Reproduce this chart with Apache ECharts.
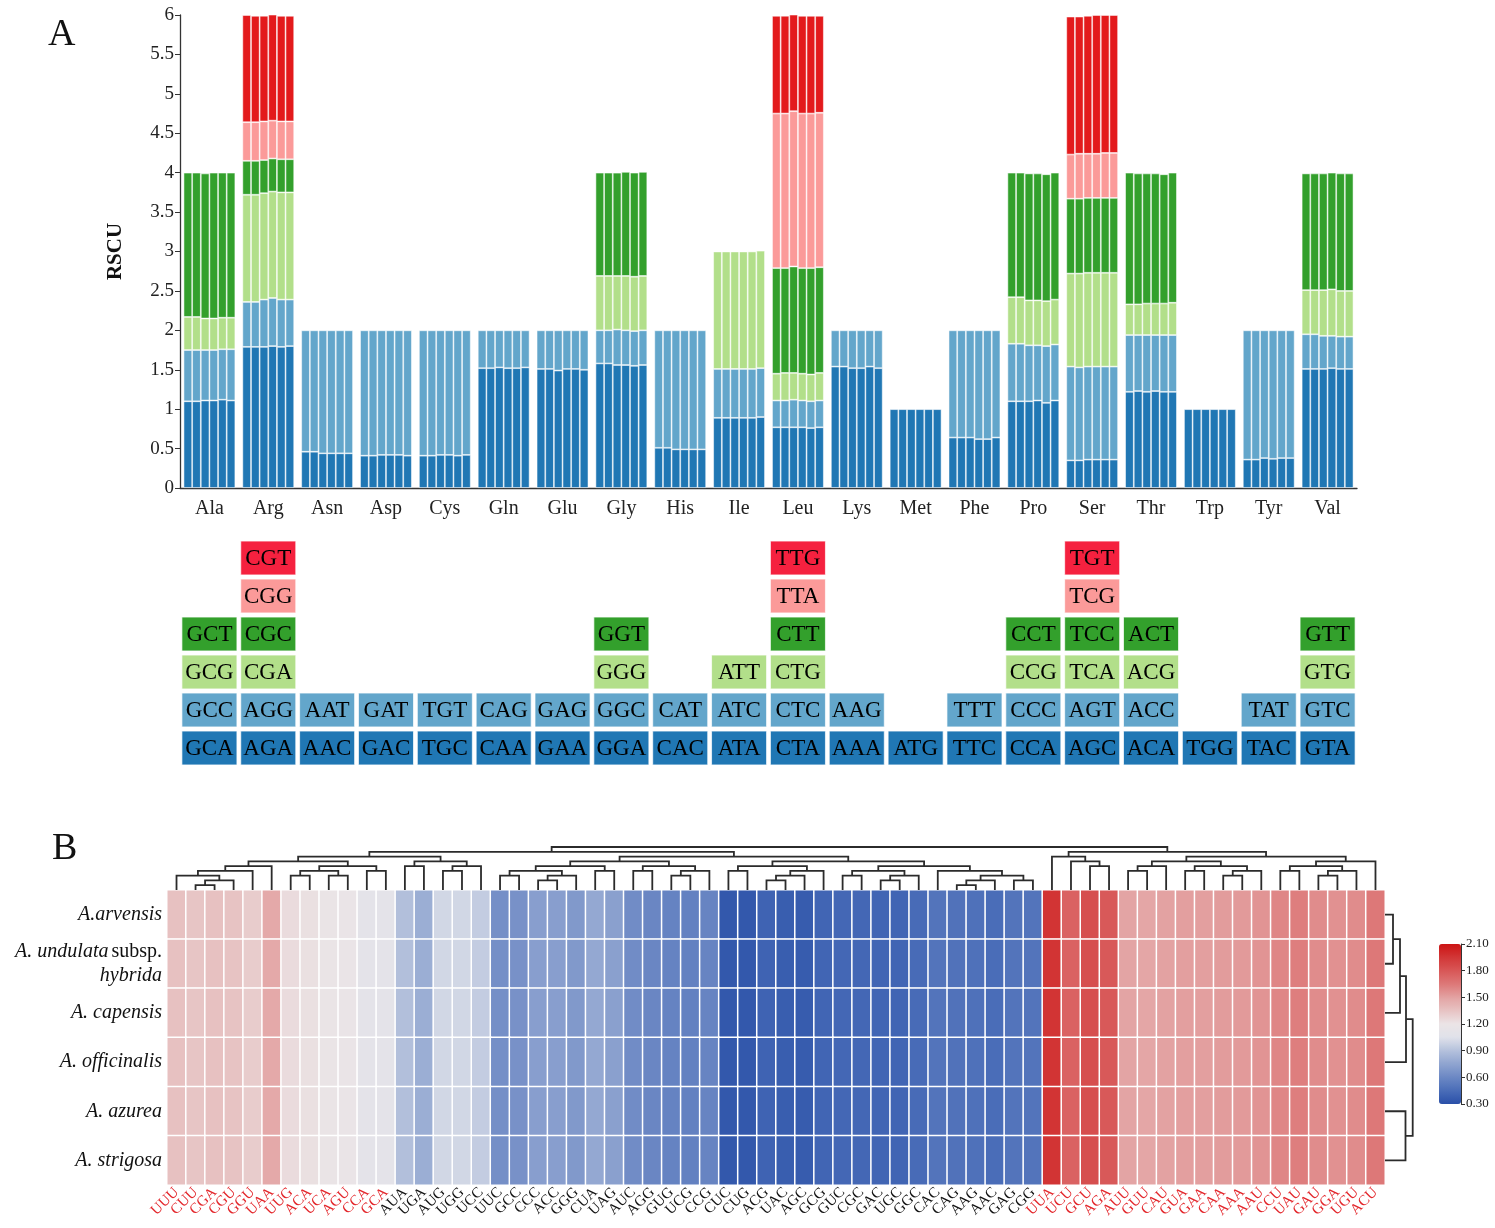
<!DOCTYPE html>
<html>
<head>
<meta charset="utf-8">
<title>RSCU</title>
<script src="https://cdn.jsdelivr.net/npm/echarts@6/dist/echarts.min.js"></script>
<style>
  html, body { margin: 0; padding: 0; background: #fff; }
  #chart { width: 1495px; height: 1228px; }
</style>
</head>
<body>
<div id="chart"></div>
<script>
var FONT = '"Liberation Serif", "Times New Roman", serif';
var N = null;

// panel A: amino acids and RSCU of each codon level (bottom -> top), 6 species per bar group
var aminoAcids = ['Ala', 'Arg', 'Asn', 'Asp', 'Cys', 'Gln', 'Glu', 'Gly', 'His', 'Ile',
                  'Leu', 'Lys', 'Met', 'Phe', 'Pro', 'Ser', 'Thr', 'Trp', 'Tyr', 'Val'];

var rscuLv1 = [
    [1.10, 1.10, 1.11, 1.11, 1.12, 1.11], [1.79, 1.79, 1.79, 1.80, 1.79, 1.80],
    [0.46, 0.46, 0.44, 0.44, 0.44, 0.44], [0.41, 0.41, 0.42, 0.42, 0.42, 0.41],
    [0.41, 0.41, 0.42, 0.42, 0.41, 0.42], [1.52, 1.52, 1.53, 1.52, 1.52, 1.53],
    [1.51, 1.51, 1.49, 1.51, 1.51, 1.50], [1.58, 1.58, 1.56, 1.56, 1.55, 1.56],
    [0.51, 0.51, 0.49, 0.49, 0.49, 0.49], [0.89, 0.89, 0.89, 0.89, 0.89, 0.90],
    [0.77, 0.77, 0.77, 0.77, 0.76, 0.77], [1.54, 1.54, 1.52, 1.52, 1.54, 1.52],
    [1.00, 1.00, 1.00, 1.00, 1.00, 1.00], [0.64, 0.64, 0.64, 0.62, 0.62, 0.64],
    [1.10, 1.10, 1.10, 1.11, 1.08, 1.11], [0.35, 0.35, 0.36, 0.36, 0.36, 0.36],
    [1.22, 1.23, 1.22, 1.23, 1.22, 1.22], [1.00, 1.00, 1.00, 1.00, 1.00, 1.00],
    [0.36, 0.36, 0.38, 0.37, 0.38, 0.38], [1.51, 1.51, 1.51, 1.52, 1.51, 1.51]
];
var rscuLv2 = [
    [0.65, 0.65, 0.64, 0.64, 0.64, 0.65], [0.57, 0.57, 0.60, 0.61, 0.60, 0.59],
    [1.54, 1.54, 1.56, 1.56, 1.56, 1.56], [1.59, 1.59, 1.58, 1.58, 1.58, 1.59],
    [1.59, 1.59, 1.58, 1.58, 1.59, 1.58], [0.48, 0.48, 0.47, 0.48, 0.48, 0.47],
    [0.49, 0.49, 0.51, 0.49, 0.49, 0.50], [0.42, 0.42, 0.45, 0.44, 0.44, 0.44],
    [1.49, 1.49, 1.51, 1.51, 1.51, 1.51], [0.62, 0.62, 0.62, 0.62, 0.62, 0.62],
    [0.34, 0.34, 0.35, 0.34, 0.34, 0.34], [0.46, 0.46, 0.48, 0.48, 0.46, 0.48],
    N, [1.36, 1.36, 1.36, 1.38, 1.38, 1.36],
    [0.73, 0.73, 0.71, 0.70, 0.72, 0.71], [1.19, 1.18, 1.18, 1.18, 1.18, 1.18],
    [0.72, 0.71, 0.72, 0.71, 0.72, 0.72], N,
    [1.64, 1.64, 1.62, 1.63, 1.62, 1.62], [0.44, 0.44, 0.42, 0.41, 0.41, 0.41]
];
var rscuLv3 = [
    [0.42, 0.42, 0.40, 0.40, 0.40, 0.40], [1.36, 1.36, 1.35, 1.35, 1.36, 1.36],
    N, N, N, N, N,
    [0.69, 0.69, 0.68, 0.69, 0.69, 0.69], N,
    [1.49, 1.49, 1.49, 1.49, 1.49, 1.49], [0.34, 0.35, 0.34, 0.34, 0.34, 0.35],
    N, N, N,
    [0.59, 0.59, 0.57, 0.57, 0.57, 0.57], [1.18, 1.19, 1.19, 1.19, 1.19, 1.19],
    [0.39, 0.39, 0.40, 0.40, 0.40, 0.41], N, N,
    [0.56, 0.56, 0.58, 0.59, 0.58, 0.58]
];
var rscuLv4 = [
    [1.83, 1.83, 1.84, 1.85, 1.84, 1.84], [0.43, 0.43, 0.42, 0.42, 0.42, 0.42],
    N, N, N, N, N,
    [1.31, 1.31, 1.31, 1.32, 1.32, 1.32], N, N,
    [1.34, 1.33, 1.35, 1.34, 1.35, 1.34], N, N, N,
    [1.58, 1.58, 1.61, 1.61, 1.61, 1.61], [0.95, 0.95, 0.95, 0.95, 0.95, 0.95],
    [1.67, 1.66, 1.65, 1.65, 1.64, 1.65], N, N,
    [1.48, 1.48, 1.48, 1.48, 1.49, 1.49]
];
var rscuLv5 = [
    N, [0.49, 0.49, 0.49, 0.48, 0.48, 0.48], N, N, N, N, N, N, N, N,
    [1.96, 1.96, 1.97, 1.96, 1.96, 1.96], N, N, N, N,
    [0.56, 0.57, 0.56, 0.56, 0.57, 0.57], N, N, N, N
];
var rscuLv6 = [
    N, [1.36, 1.35, 1.34, 1.35, 1.34, 1.34], N, N, N, N, N, N, N, N,
    [1.24, 1.24, 1.23, 1.24, 1.24, 1.23], N, N, N, N,
    [1.75, 1.74, 1.75, 1.76, 1.75, 1.75], N, N, N, N
];

// codon table under panel A, one row per level
var codonsLv1 = ['GCA', 'AGA', 'AAC', 'GAC', 'TGC', 'CAA', 'GAA', 'GGA', 'CAC', 'ATA',
                 'CTA', 'AAA', 'ATG', 'TTC', 'CCA', 'AGC', 'ACA', 'TGG', 'TAC', 'GTA'];
var codonsLv2 = ['GCC', 'AGG', 'AAT', 'GAT', 'TGT', 'CAG', 'GAG', 'GGC', 'CAT', 'ATC',
                 'CTC', 'AAG', '', 'TTT', 'CCC', 'AGT', 'ACC', '', 'TAT', 'GTC'];
var codonsLv3 = ['GCG', 'CGA', '', '', '', '', '', 'GGG', '', 'ATT',
                 'CTG', '', '', '', 'CCG', 'TCA', 'ACG', '', '', 'GTG'];
var codonsLv4 = ['GCT', 'CGC', '', '', '', '', '', 'GGT', '', '',
                 'CTT', '', '', '', 'CCT', 'TCC', 'ACT', '', '', 'GTT'];
var codonsLv5 = ['', 'CGG', '', '', '', '', '', '', '', '',
                 'TTA', '', '', '', '', 'TCG', '', '', '', ''];
var codonsLv6 = ['', 'CGT', '', '', '', '', '', '', '', '',
                 'TTG', '', '', '', '', 'TGT', '', '', '', ''];

// panel B: heatmap
var species = ['A.arvensis', 'A. undulata subsp. hybrida', 'A. capensis',
               'A. officinalis', 'A. azurea', 'A. strigosa'];
var heatCodons = ['UUU', 'CUU', 'CGA', 'CGU', 'GGU', 'UAA', 'UUG', 'ACA', 'UCA', 'AGU', 'CCA', 'GCA',
                  'AUA', 'UGA', 'AUG', 'UGG', 'UCC', 'UUC', 'GCC', 'CCC', 'ACC', 'GGG', 'CUA', 'UAG',
                  'AUC', 'AGG', 'GUG', 'UCG', 'CCG', 'CUC', 'CUG', 'ACG', 'UAC', 'AGC', 'GCG', 'GUC',
                  'CGC', 'GAC', 'UGC', 'GGC', 'CAC', 'CAG', 'AAG', 'AAC', 'GAG', 'CGG', 'UUA', 'UCU',
                  'GCU', 'AGA', 'AUU', 'GUU', 'CAU', 'GUA', 'GAA', 'CAA', 'AAA', 'AAU', 'CCU', 'UAU',
                  'GAU', 'GGA', 'UGU', 'ACU'];
var heatRscu = [1.36, 1.34, 1.36, 1.35, 1.31, 1.47, 1.24, 1.22, 1.19, 1.18, 1.10, 1.10,
                0.89, 0.80, 1.00, 1.00, 0.95, 0.64, 0.65, 0.72, 0.72, 0.69, 0.77, 0.73,
                0.62, 0.59, 0.57, 0.56, 0.58, 0.34, 0.34, 0.40, 0.37, 0.36, 0.41, 0.42,
                0.42, 0.41, 0.41, 0.44, 0.49, 0.48, 0.47, 0.45, 0.49, 0.49, 1.96, 1.75,
                1.84, 1.79, 1.49, 1.48, 1.50, 1.51, 1.51, 1.52, 1.53, 1.55, 1.60, 1.63,
                1.58, 1.56, 1.58, 1.65];

// dendrograms: [left, right, height], leaves are column / row indexes
var colTree = [
    [[[[[[0, [[1, 2, 1], 3, 2], 3], 4, 4], 5, 5], [[[6, 7, 3], [8, 9, 3], 4], [10, 11, 4], 5], 6],
      [[12, 13, 5], [[14, 15, 4], 16, 5], 6], 7],
     [[[[[17, 18, 3], [[19, 20, 2], 21, 3], 4], [22, 23, 4], 5], [[24, 25, 4], [[26, 27, 3], 28, 4], 5], 6],
      [[[29, 30, 4], [[[31, 32, 2], 33, 3], 34, 4], 5],
       [[[35, 36, 3], [[37, 38, 2], 39, 3], 4], [40, [[[41, 42, 1], 43, 2], [44, 45, 2], 3], 4], 5], 6], 7], 8],
    [[46, [47, [48, 49, 5], 6], 7],
     [[[[50, 51, 4], 52, 5], [[53, 54, 4], [[55, 56, 3], 57, 4], 5], 6],
      [[[58, 59, 4], [[60, 61, 3], 62, 4], 5], 63, 6], 7], 8],
    9];
var rowTree = [[[[0, 1, 8], 2, 15], 3, 21], [4, 5, 20.5], 27.7];

var barColors = ['#2077b4', '#63a6cb', '#b2df8a', '#33a02c', '#fb9a99', '#e31a1c'];
var cellColors = ['#2077b4', '#63a6cb', '#b2df8a', '#33a02c', '#fb9a99', '#f5213f'];
var heatColors = ['#2a50a8', '#4a6db8', '#6c88c4', '#8fa4d0', '#b4c1dc', '#e0e2ea', '#ebe4e6',
                  '#e7c3c3', '#e3a2a2', '#dd7878', '#d85757', '#d23636', '#cc1414'];

var levels = [rscuLv1, rscuLv2, rscuLv3, rscuLv4, rscuLv5, rscuLv6];
var codonLevels = [codonsLv1, codonsLv2, codonsLv3, codonsLv4, codonsLv5, codonsLv6];

var series = [];

// stacked bars, one stack per species
for (var s = 0; s < species.length; s++) {
    for (var l = 0; l < levels.length; l++) {
        series.push({
            type: 'bar',
            stack: 'sp' + s,
            xAxisIndex: 0,
            yAxisIndex: 0,
            barGap: '0%',
            barCategoryGap: '12%',
            silent: true,
            data: levels[l].map(function (v) { return v ? v[s] : null; }),
            itemStyle: { color: barColors[l], borderColor: 'rgba(255,255,255,0.65)', borderWidth: 0.8 }
        });
    }
}

// codon table
var cells = [];
codonLevels.forEach(function (row, lv) {
    row.forEach(function (c, a) {
        if (c) cells.push({ value: [a, lv], codon: c });
    });
});
series.push({
    type: 'custom',
    xAxisIndex: 1,
    yAxisIndex: 1,
    silent: true,
    data: cells,
    renderItem: function (params, api) {
        var lv = api.value(1);
        var c = api.coord([api.value(0), lv + 0.5]);
        var bw = api.size([1, 0])[0];
        var rh = api.size([0, 1])[1];
        var w = bw * 0.935, h = rh * 0.89;
        return {
            type: 'group',
            children: [{
                type: 'rect',
                shape: { x: c[0] - w / 2, y: c[1] - h / 2, width: w, height: h },
                style: { fill: cellColors[lv], stroke: 'rgba(255,255,255,0.7)', lineWidth: 1 }
            }, {
                type: 'text',
                style: {
                    text: cells[params.dataIndex].codon, x: c[0], y: c[1] + 1,
                    align: 'center', verticalAlign: 'middle',
                    fontFamily: FONT, fontSize: 23, fill: '#000'
                }
            }]
        };
    }
});

// heatmap
var heatData = [];
for (var r = 0; r < species.length; r++) {
    for (var c = 0; c < heatCodons.length; c++) {
        heatData.push([c, r, heatRscu[c]]);
    }
}
var heatIndex = series.length;
series.push({
    type: 'heatmap',
    xAxisIndex: 2,
    yAxisIndex: 2,
    silent: true,
    data: heatData,
    itemStyle: { borderColor: '#fff', borderWidth: 1.5 }
});

// dendrogram segments from the merge trees
function dendroLines(tree, flip) {
    var out = [];
    function walk(n) {
        if (typeof n === 'number') return { p: n, h: 0 };
        var a = walk(n[0]), b = walk(n[1]), h = n[2];
        var pts = [[a.p, a.h], [a.p, h], [b.p, h], [b.p, b.h]];
        out.push({ coords: flip ? pts.map(function (q) { return [q[1], q[0]]; }) : pts });
        return { p: (a.p + b.p) / 2, h: h };
    }
    walk(tree);
    return out;
}
series.push({
    type: 'lines',
    coordinateSystem: 'cartesian2d',
    xAxisIndex: 3,
    yAxisIndex: 3,
    polyline: true,
    silent: true,
    data: dendroLines(colTree, false),
    lineStyle: { color: '#2b2b2b', width: 1.8, opacity: 1 }
});
series.push({
    type: 'lines',
    coordinateSystem: 'cartesian2d',
    xAxisIndex: 4,
    yAxisIndex: 4,
    polyline: true,
    silent: true,
    data: dendroLines(rowTree, true),
    lineStyle: { color: '#2b2b2b', width: 1.8, opacity: 1 }
});

function speciesLabel(v) {
    if (v.indexOf(' subsp. ') > -1) {
        var p = v.split(' subsp. ');
        return '{i|' + p[0] + '} {n|subsp.}\n{i|' + p[1] + '}';
    }
    return '{i|' + v + '}';
}

var axisLine = { show: true, lineStyle: { color: '#333', width: 1.3 } };

var option = {
    animation: false,
    backgroundColor: '#fff',
    textStyle: { fontFamily: FONT },
    graphic: [
        { type: 'text', left: 48, top: 16, style: { text: 'A', fontFamily: FONT, fontSize: 38, fill: '#111' } },
        { type: 'text', left: 52, top: 830, style: { text: 'B', fontFamily: FONT, fontSize: 38, fill: '#111' } }
    ],
    grid: [
        { left: 180, top: 15, width: 1177, height: 473 },
        { left: 180, top: 539, width: 1177, height: 228 },
        { left: 167, top: 890, width: 1218, height: 295 },
        { left: 167, top: 847, width: 1218, height: 43 },
        { left: 1385, top: 890, width: 28, height: 295 },
        { left: 1461, top: 944, width: 1, height: 160 }
    ],
    xAxis: [
        {
            gridIndex: 0, type: 'category', data: aminoAcids,
            axisLine: axisLine,
            axisTick: { alignWithLabel: true, length: 5, lineStyle: { color: '#333' } },
            axisLabel: { fontFamily: FONT, fontSize: 20, color: '#222', margin: 11 }
        },
        { gridIndex: 1, type: 'category', data: aminoAcids, show: false },
        {
            gridIndex: 2, type: 'category', data: heatCodons,
            axisLine: { show: false }, axisTick: { show: false },
            axisLabel: {
                interval: 0, rotate: 45, margin: 5,
                formatter: function (v, i) { return (heatRscu[i] > 1 ? '{r|' : '{k|') + v + '}'; },
                rich: {
                    r: { color: '#e3262b', fontFamily: FONT, fontSize: 15 },
                    k: { color: '#111', fontFamily: FONT, fontSize: 15 }
                }
            }
        },
        { gridIndex: 3, type: 'value', min: -0.5, max: 63.5, show: false },
        { gridIndex: 4, type: 'value', min: 0, max: 28, show: false },
        { gridIndex: 5, type: 'value', show: false }
    ],
    yAxis: [
        {
            gridIndex: 0, type: 'value', min: 0, max: 6, interval: 0.5,
            name: 'RSCU', nameLocation: 'middle', nameGap: 54, nameRotate: 90,
            nameTextStyle: { fontFamily: FONT, fontSize: 21, fontWeight: 'bold', color: '#111' },
            axisLine: axisLine,
            axisTick: { show: true, length: 5, lineStyle: { color: '#333' } },
            axisLabel: { fontFamily: FONT, fontSize: 19, color: '#222', margin: 6 },
            splitLine: { show: false }
        },
        { gridIndex: 1, type: 'value', min: 0, max: 6, show: false },
        {
            gridIndex: 2, type: 'category', data: species, inverse: true,
            axisLine: { show: false }, axisTick: { show: false },
            axisLabel: {
                margin: 5, align: 'right',
                formatter: function (v) { return speciesLabel(v); },
                rich: {
                    i: { fontFamily: FONT, fontSize: 20, fontStyle: 'italic', color: '#111', lineHeight: 24, align: 'right' },
                    n: { fontFamily: FONT, fontSize: 20, color: '#111', lineHeight: 24 }
                }
            }
        },
        { gridIndex: 3, type: 'value', min: 0, max: 9, show: false },
        { gridIndex: 4, type: 'value', min: -0.5, max: 5.5, inverse: true, show: false },
        {
            gridIndex: 5, type: 'value', min: 0.3, max: 2.1, interval: 0.3, position: 'left',
            axisLine: { show: true, lineStyle: { color: '#333', width: 1 } },
            axisTick: { show: true, inside: true, length: 4, lineStyle: { color: '#333' } },
            axisLabel: {
                inside: true, margin: 5, fontFamily: FONT, fontSize: 13, color: '#222',
                formatter: function (v) { return v.toFixed(2); }
            },
            splitLine: { show: false }
        }
    ],
    visualMap: {
        type: 'continuous',
        min: 0.3, max: 2.1,
        seriesIndex: heatIndex,
        calculable: false,
        orient: 'vertical',
        left: 1439, top: 944,
        itemWidth: 22, itemHeight: 160,
        padding: 0,
        inRange: { color: heatColors }
    },
    series: series
};

var chart = echarts.init(document.getElementById('chart'));
chart.setOption(option);
</script>
</body>
</html>
